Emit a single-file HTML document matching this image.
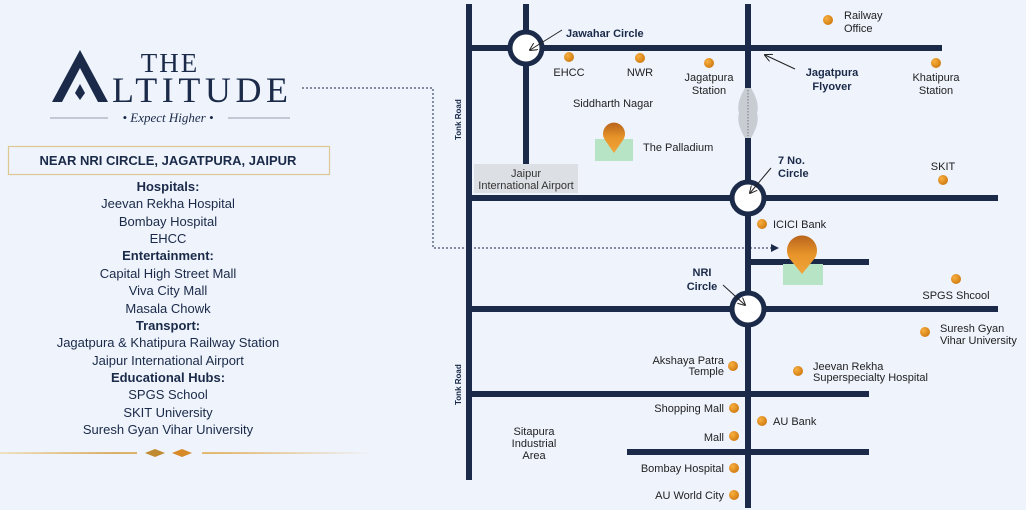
<!DOCTYPE html>
<html><head><meta charset="utf-8"><style>
html,body{margin:0;padding:0;background:#eef3fc;}
svg{display:block;font-family:"Liberation Sans",sans-serif;}
</style></head><body>
<svg width="1026" height="510" viewBox="0 0 1026 510" xmlns="http://www.w3.org/2000/svg">
<defs>
<radialGradient id="dot" cx="0.35" cy="0.35" r="0.7"><stop offset="0" stop-color="#f8b040"/><stop offset="1" stop-color="#d07a10"/></radialGradient>
<linearGradient id="pin" x1="0" y1="0" x2="0" y2="1"><stop offset="0" stop-color="#b8641c"/><stop offset="0.5" stop-color="#e8952a"/><stop offset="1" stop-color="#f0a43a"/></linearGradient>
<linearGradient id="gold" gradientUnits="userSpaceOnUse" x1="0" y1="0" x2="372" y2="0"><stop offset="0" stop-color="#f0dcae"/><stop offset="0.3" stop-color="#d49a3a"/><stop offset="0.6" stop-color="#e0a848"/><stop offset="1" stop-color="#eef3fc"/></linearGradient>
<marker id="ah" markerWidth="8" markerHeight="8" refX="7" refY="4" orient="auto"><path d="M0,0 L8,4 L0,8" fill="none" stroke="#222" stroke-width="1"/></marker>
<marker id="ah2" markerWidth="8" markerHeight="8" refX="7" refY="4" orient="auto"><path d="M0,0 L8,4 L0,8 z" fill="#1a2a48"/></marker>
</defs>
<rect width="1026" height="510" fill="#eef3fc"/>

<!-- Logo -->
<text x="170" y="72" font-family="Liberation Serif,serif" font-size="27" fill="#1a2a48" text-anchor="middle" letter-spacing="2">THE</text>
<path d="M52,102 L80,50 L108,102 L98,102 L80,68 L62,102 Z" fill="#1a2a48"/>
<path d="M80,84 L85,93 L80,100 L75,93 Z" fill="#1a2a48"/>
<text x="112" y="102" font-family="Liberation Serif,serif" font-size="36" fill="#1a2a48" textLength="176" lengthAdjust="spacing">LTITUDE</text>
<line x1="50" y1="118" x2="108" y2="118" stroke="#7a8090" stroke-width="0.8"/>
<line x1="228" y1="118" x2="290" y2="118" stroke="#7a8090" stroke-width="0.8"/>
<text x="168" y="122" font-family="Liberation Serif,serif" font-style="italic" font-size="13" fill="#1a2a48" text-anchor="middle">• Expect Higher •</text>

<!-- Box -->
<rect x="8.5" y="146.5" width="321" height="28" fill="#eef3fc" stroke="#dcc890" stroke-width="1.2"/>
<text x="168" y="165" font-size="13" font-weight="bold" fill="#1a2a48" text-anchor="middle">NEAR NRI CIRCLE, JAGATPURA, JAIPUR</text>

<g font-size="13" fill="#1a2a48" text-anchor="middle">
<text x="168" y="191" font-weight="bold">Hospitals:</text>
<text x="168" y="208">Jeevan Rekha Hospital</text>
<text x="168" y="226">Bombay Hospital</text>
<text x="168" y="243">EHCC</text>
<text x="168" y="260" font-weight="bold">Entertainment:</text>
<text x="168" y="278">Capital High Street Mall</text>
<text x="168" y="295">Viva City Mall</text>
<text x="168" y="313">Masala Chowk</text>
<text x="168" y="330" font-weight="bold">Transport:</text>
<text x="168" y="347">Jagatpura &amp; Khatipura Railway Station</text>
<text x="168" y="365">Jaipur International Airport</text>
<text x="168" y="382" font-weight="bold">Educational Hubs:</text>
<text x="168" y="399">SPGS School</text>
<text x="168" y="417">SKIT University</text>
<text x="168" y="434">Suresh Gyan Vihar University</text>
</g>
<rect x="0" y="452.3" width="137" height="1.5" fill="url(#gold)"/>
<rect x="202" y="452.3" width="170" height="1.5" fill="url(#gold)"/>
<path d="M145,453 L155,449 L165,453 L155,457 Z" fill="#c08a30"/>
<path d="M172,453 L182,449 L192,453 L182,457 Z" fill="#d88a28"/>

<!-- dotted connector -->
<path d="M302,88 L433,88 L433,248 L778,248" fill="none" stroke="#1a2a48" stroke-width="1" stroke-dasharray="2,2" marker-end="url(#ah2)"/>

<!-- roads -->
<g stroke="#1a2a48" stroke-width="6" fill="none">
<line x1="469" y1="4" x2="469" y2="480"/>
<line x1="526" y1="4" x2="526" y2="165"/>
<line x1="748" y1="4" x2="748" y2="88"/>
<line x1="748" y1="138" x2="748" y2="508"/>
<line x1="469" y1="48" x2="942" y2="48"/>
<line x1="469" y1="198" x2="998" y2="198"/>
<line x1="748" y1="262" x2="869" y2="262"/>
<line x1="469" y1="309" x2="998" y2="309"/>
<line x1="469" y1="394" x2="869" y2="394"/>
<line x1="627" y1="452" x2="869" y2="452"/>
</g>
<path d="M745,88 L751,88 Q760,103 757,113 Q760,123 751,138 L745,138 Q736,123 739,113 Q736,103 745,88 Z" fill="#c8cdd4"/>
<line x1="748" y1="90" x2="748" y2="136" stroke="#777" stroke-width="1" stroke-dasharray="1.5,1.5"/>
<g fill="#fff" stroke="#1a2a48" stroke-width="5">
<circle cx="526" cy="48" r="16"/>
<circle cx="748" cy="198" r="16"/>
<circle cx="748" cy="309" r="16"/>
</g>

<rect x="474" y="164" width="104" height="29" fill="#dcdfe3"/>
<g font-size="11" fill="#333">
<text x="526" y="177" text-anchor="middle">Jaipur</text>
<text x="526" y="189" text-anchor="middle">International Airport</text>
</g>

<text transform="translate(461,140) rotate(-90)" font-size="8" font-weight="bold" fill="#1a2a48">Tonk Road</text>
<text transform="translate(461,405) rotate(-90)" font-size="8" font-weight="bold" fill="#1a2a48">Tonk Road</text>

<!-- pins -->
<rect x="595" y="139" width="38" height="22" fill="#b8e4c6"/>
<path d="M614,153 L605,140 A11,11 0 1,1 623,140 Z" fill="url(#pin)"/>
<rect x="783" y="264" width="40" height="21" fill="#b8e4c6"/>
<path d="M802,274 L789,258 A15,15 0 1,1 815,258 Z" fill="url(#pin)"/>

<!-- arrows -->
<g stroke="#222" stroke-width="1" marker-end="url(#ah)">
<line x1="562" y1="30" x2="530" y2="50"/>
<line x1="795" y1="69" x2="765" y2="55"/>
<line x1="771" y1="168" x2="750" y2="193"/>
<line x1="723" y1="285" x2="745" y2="305"/>
</g>

<!-- dots -->
<g fill="url(#dot)">
<circle cx="828" cy="20" r="5"/><circle cx="569" cy="57" r="5"/><circle cx="640" cy="58" r="5"/>
<circle cx="709" cy="63" r="5"/><circle cx="936" cy="63" r="5"/><circle cx="943" cy="180" r="5"/>
<circle cx="762" cy="224" r="5"/><circle cx="956" cy="279" r="5"/><circle cx="925" cy="332" r="5"/>
<circle cx="733" cy="366" r="5"/><circle cx="798" cy="371" r="5"/><circle cx="734" cy="408" r="5"/>
<circle cx="762" cy="421" r="5"/><circle cx="734" cy="436" r="5"/><circle cx="734" cy="468" r="5"/>
<circle cx="734" cy="495" r="5"/>
</g>

<g font-size="11" fill="#222">
<text x="844" y="19">Railway</text><text x="844" y="32">Office</text>
<text x="569" y="76" text-anchor="middle">EHCC</text>
<text x="640" y="76" text-anchor="middle">NWR</text>
<text x="709" y="81" text-anchor="middle">Jagatpura</text><text x="709" y="94" text-anchor="middle">Station</text>
<text x="936" y="81" text-anchor="middle">Khatipura</text><text x="936" y="94" text-anchor="middle">Station</text>
<text x="613" y="107" text-anchor="middle">Siddharth Nagar</text>
<text x="643" y="151">The Palladium</text>
<text x="943" y="170" text-anchor="middle">SKIT</text>
<text x="773" y="228">ICICI Bank</text>
<text x="956" y="299" text-anchor="middle">SPGS Shcool</text>
<text x="940" y="332">Suresh Gyan</text><text x="940" y="344">Vihar University</text>
<text x="724" y="364" text-anchor="end">Akshaya Patra</text><text x="724" y="375" text-anchor="end">Temple</text>
<text x="813" y="370">Jeevan Rekha</text><text x="813" y="381">Superspecialty Hospital</text>
<text x="724" y="412" text-anchor="end">Shopping Mall</text>
<text x="773" y="425">AU Bank</text>
<text x="724" y="441" text-anchor="end">Mall</text>
<text x="724" y="472" text-anchor="end">Bombay Hospital</text>
<text x="724" y="499" text-anchor="end">AU World City</text>
<text x="534" y="435" text-anchor="middle">Sitapura</text><text x="534" y="447" text-anchor="middle">Industrial</text><text x="534" y="459" text-anchor="middle">Area</text>
</g>
<g font-size="11" font-weight="bold" fill="#1a2a48">
<text x="566" y="37">Jawahar Circle</text>
<text x="832" y="76" text-anchor="middle">Jagatpura</text><text x="832" y="90" text-anchor="middle">Flyover</text>
<text x="778" y="164">7 No.</text><text x="778" y="177">Circle</text>
<text x="702" y="276" text-anchor="middle">NRI</text><text x="702" y="290" text-anchor="middle">Circle</text>
</g>
</svg>
</body></html>
